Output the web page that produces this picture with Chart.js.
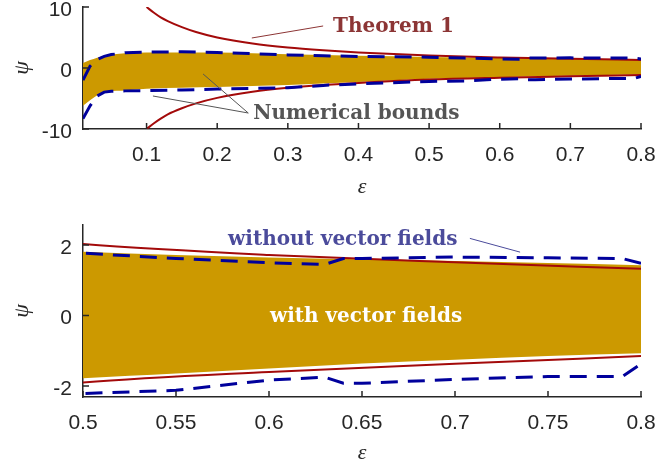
<!DOCTYPE html>
<html>
<head>
<meta charset="utf-8">
<script src="https://cdn.jsdelivr.net/npm/chart.js@4.4.1/dist/chart.umd.min.js"></script>
<style>
body{margin:0;background:#fff;}
#wrap{position:relative;width:657px;height:465px;}
canvas{position:absolute;left:0;}
</style>
</head>
<body>
<div id="wrap">
<canvas id="topChart" width="657" height="200" style="top:0px"></canvas>
<canvas id="bottomChart" width="657" height="265" style="top:200px"></canvas>
</div>
<script>
// numerical bounds with vector fields (filled band)
var bandX    = [0.01, 0.02, 0.03, 0.045, 0.07, 0.1, 0.2, 0.3, 0.4, 0.5, 0.55, 0.6, 0.65, 0.7, 0.75, 0.8];
var bandHigh = [0.8, 1.3, 1.7, 2.1, 2.4, 2.55, 2.55, 2.25, 2.0, 1.81, 1.72, 1.65, 1.6, 1.55, 1.49, 1.43];
var bandLow  = [-6.2, -5.3, -4.5, -3.9, -3.7, -3.4, -3.1, -2.8, -2.3, -1.78, -1.64, -1.5, -1.36, -1.25, -1.15, -1.07];

// Theorem 1 bounds
var theoX    = [0.1, 0.11, 0.12, 0.13, 0.15, 0.17, 0.2, 0.25, 0.3, 0.35, 0.4, 0.5, 0.6, 0.7, 0.8];
var theoHigh = [10, 9.1, 8.3, 7.7, 6.7, 5.9, 5.0, 4.0, 3.35, 2.9, 2.55, 2.03, 1.72, 1.51, 1.33];
var theoLow  = [-10, -9.1, -8.3, -7.6, -6.6, -5.8, -4.9, -3.9, -3.25, -2.8, -2.45, -1.9, -1.6, -1.37, -1.15];

// numerical bounds without vector fields (dashed)
var noVfX    = [0.01, 0.02, 0.03, 0.04, 0.05, 0.07, 0.1, 0.15, 0.2, 0.3, 0.35, 0.4, 0.5, 0.55, 0.6, 0.63, 0.64, 0.65, 0.7, 0.75, 0.79, 0.8];
var noVfHigh = [-2.0, 0.3, 1.4, 1.9, 2.2, 2.5, 2.6, 2.65, 2.55, 2.15, 2.0, 1.9, 1.77, 1.62, 1.5, 1.45, 1.62, 1.62, 1.66, 1.64, 1.62, 1.48];
var noVfLow  = [-8.3, -6.2, -4.6, -3.95, -3.8, -3.75, -3.7, -3.6, -3.45, -3.25, -2.85, -2.6, -2.21, -2.12, -1.83, -1.75, -1.92, -1.92, -1.81, -1.73, -1.73, -1.37];

// axes
var topXTicks = [0.1, 0.2, 0.3, 0.4, 0.5, 0.6, 0.7, 0.8];
var topYTicks = [-10, 0, 10];
var botXTicks = [0.5, 0.55, 0.6, 0.65, 0.7, 0.75, 0.8];
var botYTicks = [-2, 0, 2];

var axisColor = '#262626';
var bandColor = '#cc9900';
var theoColor = '#a30a0a';
var dashColor = '#00009c';

function pts(xs, ys){
	var out = [];
	for(var i=0; i<xs.length; i++){ out.push({x: xs[i], y: ys[i]}); }
	return out;
}

// ticks drawn inside the box, matlab style
var innerTicks = {
	id: 'innerTicks',
	afterDraw: function(chart){
		var ctx = chart.ctx, a = chart.chartArea;
		var xs = chart.scales.x, ys = chart.scales.y;
		ctx.save();
		ctx.strokeStyle = axisColor;
		ctx.lineWidth = 1.5;
		ctx.beginPath();
		xs.ticks.forEach(function(t){
			var px = xs.getPixelForValue(t.value);
			ctx.moveTo(px, a.bottom); ctx.lineTo(px, a.bottom - 6);
		});
		ys.ticks.forEach(function(t){
			var py = ys.getPixelForValue(t.value);
			ctx.moveTo(a.left, py); ctx.lineTo(a.left + 6, py);
		});
		ctx.stroke();
		ctx.restore();
	}
};

function notesPlugin(notes){
	return {
		id: 'notes',
		afterDraw: function(chart){
			var ctx = chart.ctx, xs = chart.scales.x, ys = chart.scales.y;
			ctx.save();
			notes.forEach(function(n){
				ctx.strokeStyle = n.color;
				ctx.lineWidth = 1;
				(n.lines || []).forEach(function(l){
					ctx.beginPath();
					ctx.moveTo(xs.getPixelForValue(l[0]), ys.getPixelForValue(l[1]));
					ctx.lineTo(xs.getPixelForValue(l[2]), ys.getPixelForValue(l[3]));
					ctx.stroke();
				});
				ctx.fillStyle = n.color;
				ctx.font = 'bold 20px "DejaVu Serif"';
				ctx.textAlign = 'left';
				ctx.textBaseline = 'alphabetic';
				ctx.fillText(n.text, xs.getPixelForValue(n.x), ys.getPixelForValue(n.y));
			});
			ctx.restore();
		}
	};
}

function makeChart(id, cfg){
	var ctx = document.getElementById(id).getContext('2d');
	return new Chart(ctx, {
		type: 'line',
		data: {
			datasets: [
				{ data: pts(bandX, bandHigh), borderWidth: 0, pointRadius: 0, backgroundColor: bandColor,
				  fill: 1, cubicInterpolationMode: 'monotone', order: 2 },
				{ data: pts(bandX, bandLow), borderWidth: 0, pointRadius: 0, fill: false,
				  cubicInterpolationMode: 'monotone', order: 2 },
				{ data: pts(theoX, theoHigh), borderColor: theoColor, borderWidth: 2, pointRadius: 0, fill: false,
				  cubicInterpolationMode: 'monotone', order: 1 },
				{ data: pts(theoX, theoLow), borderColor: theoColor, borderWidth: 2, pointRadius: 0, fill: false,
				  cubicInterpolationMode: 'monotone', order: 1 },
				{ data: pts(noVfX, noVfHigh), borderColor: dashColor, borderWidth: 3, borderDash: [17, 10], pointRadius: 0,
				  fill: false, tension: 0, order: 0 },
				{ data: pts(noVfX, noVfLow), borderColor: dashColor, borderWidth: 3, borderDash: [17, 10], pointRadius: 0,
				  fill: false, tension: 0, order: 0 }
			]
		},
		options: {
			responsive: false,
			animation: false,
			devicePixelRatio: 1,
			layout: { padding: { top: cfg.padTop, right: 16, bottom: 0, left: 0 } },
			plugins: { legend: { display: false }, tooltip: { enabled: false } },
			scales: {
				x: {
					type: 'linear', min: cfg.xMin, max: cfg.xMax,
					grid: { display: false, drawTicks: false },
					border: { display: true, color: axisColor, width: 1.5 },
					afterBuildTicks: function(s){ s.ticks = cfg.xTicks.map(function(v){ return {value: v}; }); },
					afterFit: function(s){ s.height = cfg.xAxisHeight; s.paddingLeft = 0; s.paddingRight = 0; },
					ticks: { color: axisColor, padding: 14, maxRotation: 0, autoSkip: false,
					         font: { family: '"Liberation Sans", Arial', size: 21 },
					         callback: function(v){ return String(Math.round(v * 100) / 100); } },
					title: { display: true, text: 'ε', color: axisColor, padding: { top: 0, bottom: cfg.titlePad },
					         font: { family: '"Liberation Serif", serif', size: 22, style: 'italic', lineHeight: 1.1 } }
				},
				y: {
					type: 'linear', min: cfg.yMin, max: cfg.yMax,
					grid: { display: false, drawTicks: false },
					border: { display: true, color: axisColor, width: 1.5 },
					afterBuildTicks: function(s){ s.ticks = cfg.yTicks.map(function(v){ return {value: v}; }); },
					afterFit: function(s){ s.width = 83; s.paddingTop = 0; s.paddingBottom = 0; },
					ticks: { color: axisColor, padding: 11, labelOffset: 3, autoSkip: false,
					         font: { family: '"Liberation Sans", Arial', size: 21 },
					         callback: function(v){ return String(v); } },
					title: { display: true, text: 'ψ', color: axisColor, padding: { top: 10, bottom: 0 },
					         font: { family: '"Liberation Serif", serif', size: 22, style: 'italic', lineHeight: 1.1 } }
				}
			}
		},
		plugins: [innerTicks, notesPlugin(cfg.notes)]
	});
}

makeChart('topChart', {
	xMin: 0.01, xMax: 0.8, yMin: -10, yMax: 10,
	xTicks: topXTicks, yTicks: topYTicks,
	padTop: 7, xAxisHeight: 71, titlePad: 1,
	notes: [
		{ text: 'Theorem 1', x: 0.364, y: 5.9, color: '#8c3535', lines: [[0.249, 4.92, 0.350, 6.89]] },
		{ text: 'Numerical bounds', x: 0.251, y: -8.36, color: '#555555',
		  lines: [[0.109, -4.59, 0.244, -7.38], [0.180, -0.98, 0.244, -7.38]] }
	]
});

makeChart('bottomChart', {
	xMin: 0.5, xMax: 0.8, yMin: -2.31, yMax: 2.57,
	xTicks: botXTicks, yTicks: botYTicks,
	padTop: 25, xAxisHeight: 68, titlePad: 0,
	notes: [
		{ text: 'without vector fields', x: 0.578, y: 1.99, color: '#4b4b9b', lines: [[0.708, 2.19, 0.735, 1.80]] },
		{ text: 'with vector fields', x: 0.6005, y: -0.19, color: '#ffffff' }
	]
});
</script>
</body>
</html>
